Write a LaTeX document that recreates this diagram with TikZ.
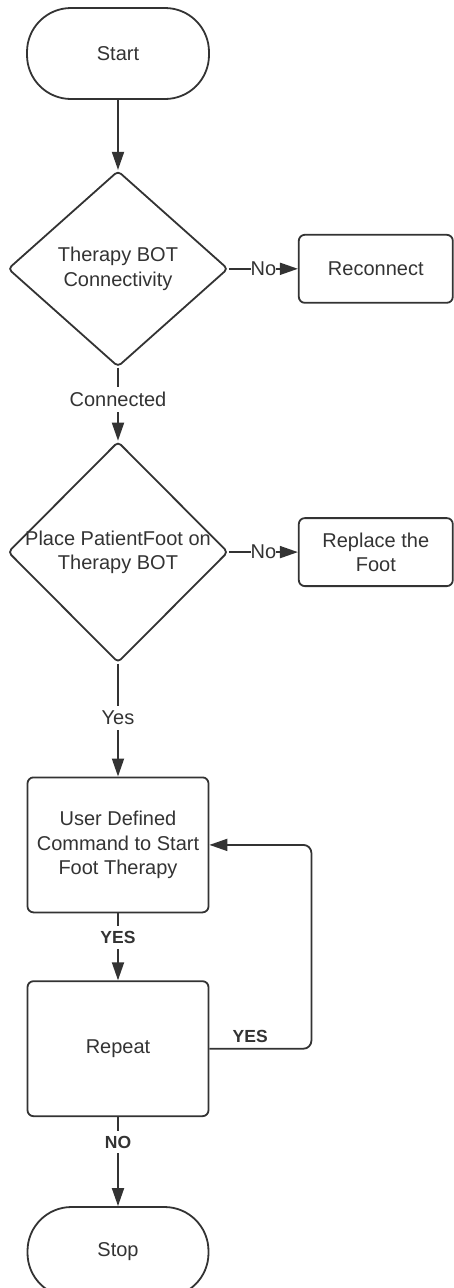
\documentclass[tikz,border=0pt]{standalone}
\usepackage{fontspec}
\setmainfont{Liberation Sans}
\usetikzlibrary{shapes.geometric,positioning,arrows.meta}
\definecolor{ink}{HTML}{333333}
\tikzset{
  base/.style={draw=ink,line width=1.8pt,text=ink,font=\fontsize{20}{24.5}\selectfont,align=center,inner sep=0pt},
  term/.style={base,rectangle,rounded corners=44pt,minimum width=182pt,minimum height=91pt},
  proc/.style={base,rectangle,rounded corners=6pt,minimum width=181pt,minimum height=135pt},
  side/.style={base,rectangle,rounded corners=6pt,minimum width=154pt,minimum height=68pt},
  decision/.style={base,diamond,rounded corners=4pt,minimum width=220pt},
  dtext/.style={text=ink,font=\fontsize{20}{24.5}\selectfont,align=center,inner sep=0pt},
  flow/.style={draw=ink,line width=1.8pt,-{Triangle[length=18pt,width=12pt]}},
  lbl/.style={fill=white,text=ink,font=\fontsize{20}{24}\selectfont,inner xsep=1pt,inner ysep=5pt},
  blbl/.style={lbl,font=\fontsize{17.5}{20}\selectfont\bfseries}
}
\begin{document}
\begin{tikzpicture}
    \useasboundingbox (0,0) rectangle (453pt,-1288pt);
    \node[term] (start) at (118pt,-53.5pt) {Start};
    \node[decision,minimum height=196pt,below=70pt of start,
          label={[dtext]center:Therapy BOT\\Connectivity}] (conn) {};
    \node[side,right=69pt of conn] (reconn) {Reconnect};
    \node[decision,minimum height=221pt,below=73pt of conn,
          label={[dtext]center:Place PatientFoot on\\Therapy BOT}] (place) {};
    \node[side,right=69pt of place] (replace) {Replace the\\Foot};
    \node[proc,below=113pt of place] (user) {User Defined\\Command to Start\\Foot Therapy};
    \node[proc,below=67pt of user] (repeat) {Repeat};
    \node[term,minimum width=181pt,minimum height=90pt,below=89pt of repeat] (stop) {Stop};
    \draw[flow] (start) -- (conn);
    \draw[flow] (conn.east) -- node[lbl,inner xsep=0pt,pos=0.5] {No} (reconn.west);
    \draw[flow] (conn.south) -- node[lbl,pos=0.44] {Connected} (place.north);
    \draw[flow] (place.east) -- node[lbl,inner xsep=0pt,pos=0.5] {No} (replace.west);
    \draw[flow] (place.south) -- node[lbl,pos=0.48] {Yes} (user.north);
    \draw[flow] (user) -- node[blbl,pos=0.36] {YES} (repeat);
    \draw[flow,rounded corners=8pt] (repeat.east) -- node[blbl,fill=none,above,pos=0.4] {YES} ++(102pt,0) |- (user.east);
    \draw[flow] (repeat) -- node[blbl,pos=0.28] {NO} (stop);
\end{tikzpicture}
\end{document}
